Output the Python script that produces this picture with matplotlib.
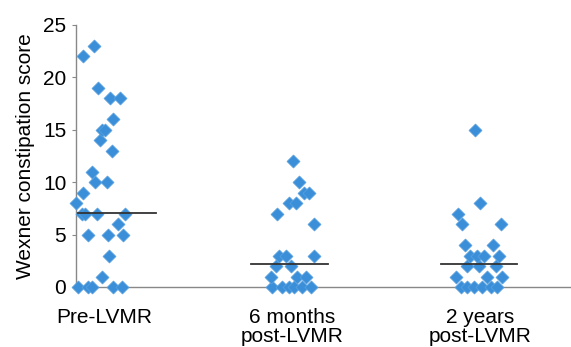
import matplotlib.pyplot as plt
import numpy as np

plt.rcParams['font.family'] = ['Liberation Sans', 'DejaVu Sans']

categories = ["Pre-LVMR", "6 months\npost-LVMR", "2 years\npost-LVMR"]

# scores, with horizontal scatter offsets (px from group centre)
pre_scores = [0, 0, 0, 0, 0, 1, 3, 5, 5, 5, 6, 7, 7, 7, 7, 8, 9, 10, 10, 11,
              13, 14, 15, 15, 16, 18, 18, 19, 22, 23]
pre_dx = [-26, -16, -12, 9, 18, -2, 5, -16, 4, 19, 14, -22, -19, -7, 21, -28,
          -21, -9, 3, -12, 8, -4, -2, 1, 9, 6, 16, -6, -21, -10]

m6_scores = [0, 0, 0, 0, 0, 0, 1, 1, 1, 2, 2, 3, 3, 3, 6, 7, 8, 8, 9, 9, 10, 12]
m6_dx = [-20, -10, -3, 2, 10, 19, -21, 5, 14, -16, -1, -13, -6, 22, 22, -15,
         -3, 4, 12, 17, 7, 1]

y2_scores = [0, 0, 0, 0, 0, 0, 1, 1, 1, 2, 2, 2, 3, 3, 3, 3, 4, 4, 6, 6, 7, 8, 15]
y2_dx = [-19, -13, -6, 2, 11, 17, -24, 7, 22, -13, -1, 16, -10, -3, 4, 19,
         -15, 13, -18, 21, -22, 0, -5]

medians = [7.1, 2.2, 2.2]
med_span = [(-26, 52), (-41, 36), (-39, 37)]

PX = 188.0  # pixels per category step

fig = plt.figure(figsize=(5.71, 3.47), dpi=100)
ax = fig.add_axes([76 / 571, 60 / 347, 1 - 76 / 571, 262 / 347])

groups = [(pre_scores, pre_dx), (m6_scores, m6_dx), (y2_scores, y2_dx)]
for i, (scores, dx) in enumerate(groups):
    x = i + np.array(dx) / PX
    ax.scatter(x, scores, marker="D", s=44, color="#3b8fd8", edgecolors="#5aa2e0",
               linewidths=0.5, clip_on=False, zorder=3)
    lo, hi = med_span[i]
    ax.plot([i + lo / PX, i + hi / PX], [medians[i]] * 2, color="#333333",
            lw=1.3, zorder=4)

ax.set_xlim(-28 / PX, -28 / PX + 495 / PX)
ax.set_ylim(0, 25)
ax.set_yticks([0, 5, 10, 15, 20, 25])
ax.set_xticks([0, 1, 2])
ax.set_xticklabels(categories, fontsize=15, linespacing=1.0)
ax.tick_params(axis="x", length=0, pad=15)
ax.tick_params(axis="y", length=3, width=0.8, color="#888888", labelsize=15, pad=4)
ax.set_ylabel("Wexner constipation score", fontsize=15, labelpad=6)

for side in ["top", "right"]:
    ax.spines[side].set_visible(False)
for side in ["left", "bottom"]:
    ax.spines[side].set_color("#888888")
    ax.spines[side].set_linewidth(1.0)

fig.savefig("out.png", dpi=100)
